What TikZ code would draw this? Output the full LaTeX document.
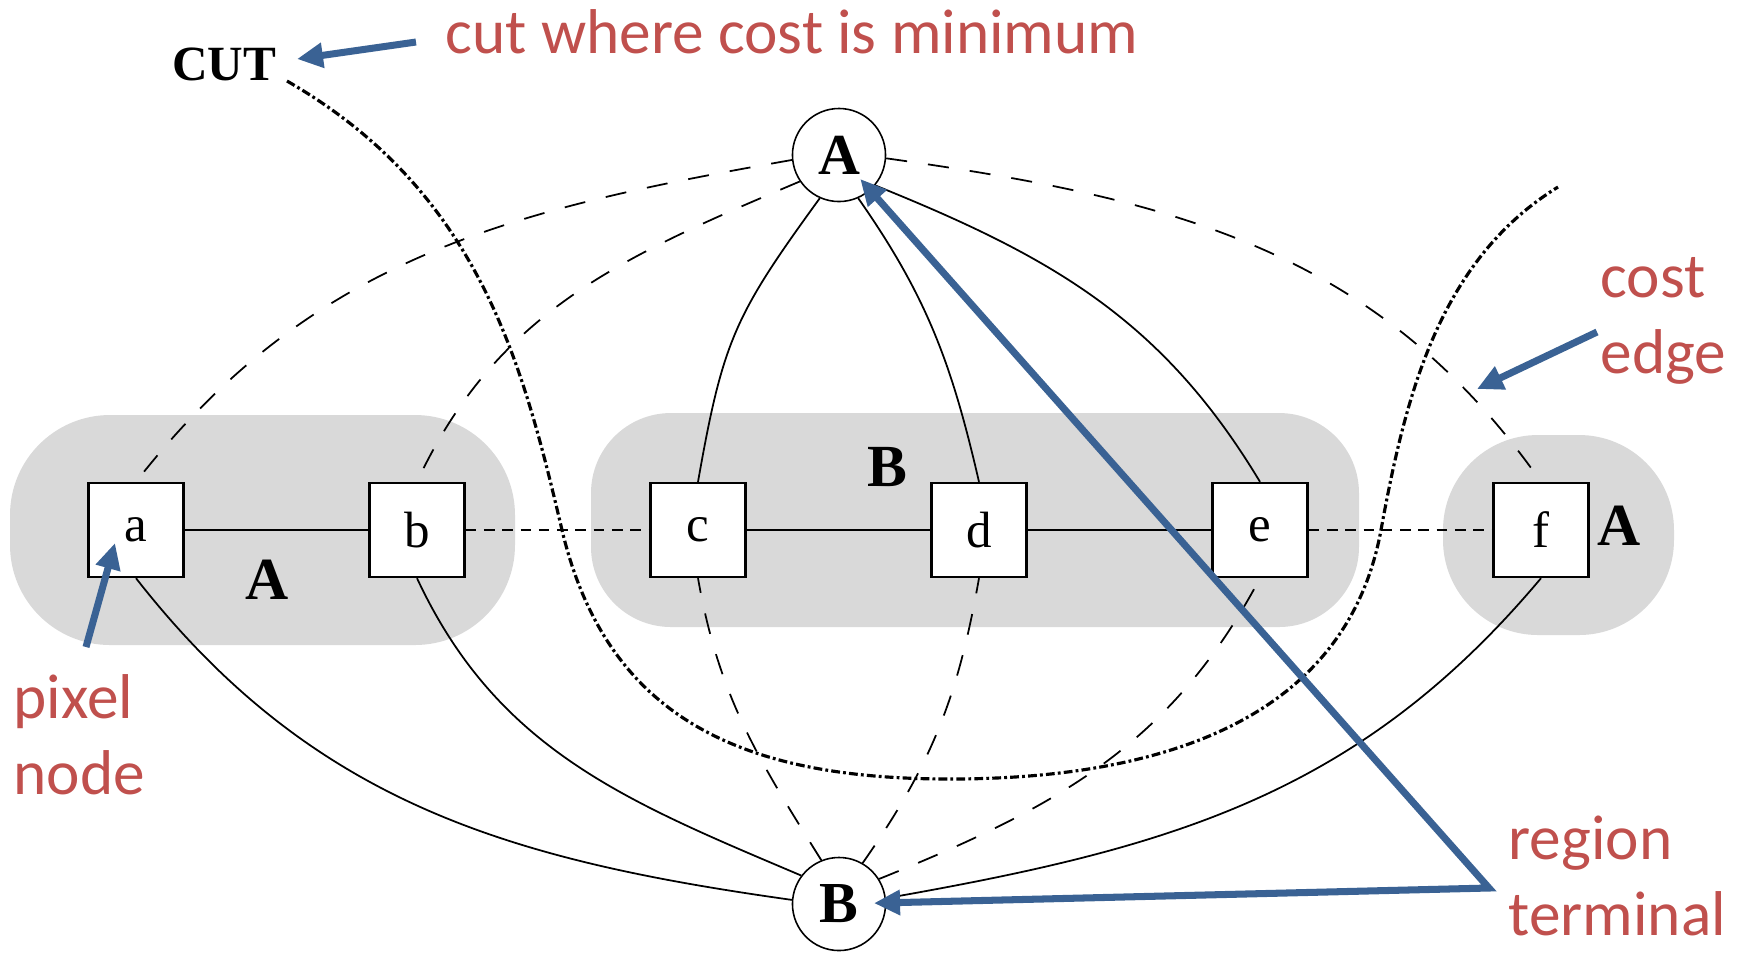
\documentclass[tikz,border=0pt]{standalone}
\usepackage{fontspec}
\setmainfont{Liberation Serif}
\newfontfamily\calib{Carlito}
\usepackage{tikz}
\usetikzlibrary{arrows.meta}
\definecolor{notered}{HTML}{C0504D}
\definecolor{noteblue}{HTML}{3A6294}
\definecolor{regiongray}{HTML}{D9D9D9}

\begin{document}
\begin{tikzpicture}[
    x=0.01cm, y=0.01cm,
    pix/.style={rectangle, draw, line width=0.65pt, fill=white, minimum width=0.95cm, minimum height=0.94cm, inner sep=0pt, font=\fontsize{14.5}{16}\selectfont},
    term/.style={circle, draw, line width=0.45pt, fill=white, minimum size=0.93cm, inner sep=0pt, font=\fontsize{16.5}{18}\selectfont\bfseries},
    reg/.style={inner sep=0pt, font=\fontsize{17}{19}\selectfont\bfseries},
    link/.style={line width=0.5pt},
    weak/.style={line width=0.5pt, dash pattern=on 6pt off 6pt},
    weakh/.style={line width=0.5pt, dash pattern=on 3pt off 2.2pt},
    cutline/.style={line width=0.9pt, dash pattern=on 2.5pt off 0.9pt on 0.8pt off 0.9pt},
    note/.style={text=notered, font=\calib\fontsize{18}{21.5}\selectfont, align=left, inner sep=0pt},
    pointer/.style={draw=noteblue, line width=2pt, -{Triangle[length=0.26cm,width=0.24cm]}},
    pointers/.style={draw=noteblue, line width=2pt, {Triangle[length=0.26cm,width=0.24cm]}-{Triangle[length=0.26cm,width=0.24cm]}}
]
\useasboundingbox (0,0) rectangle (1744,-953);

\fill[regiongray, rounded corners=1cm] (10,-415) rectangle (515,-645);
\fill[regiongray, rounded corners=0.8cm] (591,-413) rectangle (1359,-627);
\fill[regiongray, rounded corners=0.95cm] (1443,-435) rectangle (1674,-635);

\node[term] (A) at (839,-155) {A};
\node[term] (B) at (839,-904) {B};
\foreach \n [count=\i from 0] in {a,b,c,d,e,f}
    \node[pix] (\n) at (136+281*\i,-530) {\n};

\node[reg] (regab) at (267,-580) {A};
\node[reg] (regce) at (887,-467) {B};
\node[reg] (regf) at (1619,-526) {A};
\node[font=\fontsize{14}{15}\selectfont\bfseries] (cut) at (224,-64) {CUT};

\draw[link] (a) -- (b);
\draw[weakh] (b) -- (c);
\draw[link] (c) -- (d);
\draw[link] (d) -- (e);
\draw[weakh] (e) -- (f);

\draw[weak] (A.186) to[out=190, in=52] (a.north);
\draw[weak] (A.214) to[out=203, in=65] (b.north);
\draw[link] (A.246) to[out=234, in=80, looseness=1.2] (c.north);
\draw[link] (A.-66) to[out=-55, in=103] (d.north);
\draw[link] (A.-40) to[out=-22, in=121] (e.north);
\draw[weak] (A.-4) to[out=-8, in=125] (f.north);

\draw[link] (B.175) to[out=172, in=-52] (a.south);
\draw[link] (B.143) to[out=157, in=-65] (b.south);
\draw[weak] (B.112) to[out=122, in=-80] (c.south);
\draw[weak] (B.60) to[out=55, in=-100] (d.south);
\draw[weak] (B.32) to[out=22, in=-118] (e.south);
\draw[link] (B.7) to[out=10, in=-130] (f.south);

\draw[cutline] (287,-81) .. controls (478,-191) and (522,-360) .. (562,-530)
    .. controls (608,-724) and (750,-779) .. (950,-779)
    .. controls (1150,-779) and (1345,-726) .. (1381,-530)
    .. controls (1406,-393) and (1440,-260) .. (1558,-187);

\node[note, anchor=base west] (cutnote) at (445,-53) {cut where cost is minimum};
\node[note, anchor=west] (costnote) at (1600,-321) {cost\\edge};
\node[note, anchor=west] (pixnote) at (13,-735) {pixel\\node};
\node[note, anchor=west] (regnote) at (1508,-876) {region\\terminal};

\coordinate (cuttail) at (416,-42);
\coordinate (cuttip) at (297,-59);
\coordinate (pixtail) at (86,-647);
\coordinate (pixtip) at (115,-543);
\coordinate (costtail) at (1597,-332);
\coordinate (costtip) at (1477,-389);
\coordinate (rt) at (1489,-888);

\draw[pointer] (cuttail) -- (cuttip);
\draw[pointer] (pixtail) -- (pixtip);
\draw[pointer] (costtail) -- (costtip);
\draw[pointers, shorten <=0.32cm, shorten >=0.35cm] (A.center) -- (rt) -- (B.center);
\end{tikzpicture}
\end{document}
